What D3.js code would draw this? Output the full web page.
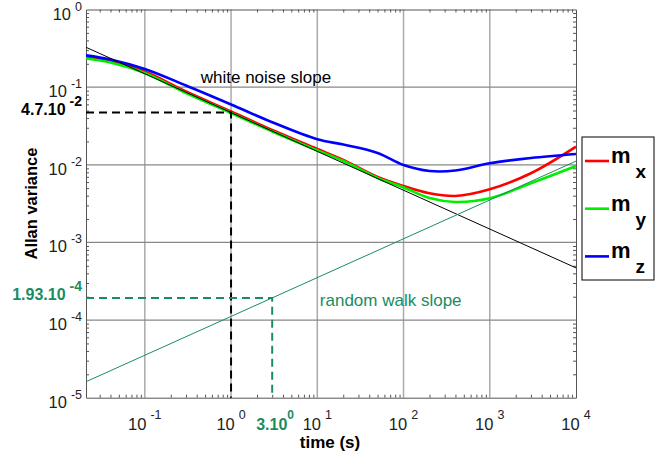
<!DOCTYPE html>
<html>
<head>
<meta charset="utf-8">
<script src="https://cdn.jsdelivr.net/npm/d3@7"></script>
<style>
  body { margin: 0; background: #fff; }
  text { font-family: "Liberation Sans", Arial, sans-serif; }
</style>
</head>
<body>
<div id="chart"></div>
<script>
// data
var tau = [0.0208, 0.04, 0.1, 0.3, 1, 3, 10, 20, 50, 100, 200, 400, 1000, 3000, 10000];
var mx = [0.239, 0.217, 0.159, 0.0879, 0.0486, 0.0281, 0.0160, 0.01153, 0.00696, 0.00533, 0.00429, 0.00396, 0.00483, 0.00777, 0.0171];
var my = [0.234, 0.208, 0.152, 0.0841, 0.0465, 0.0268, 0.0153, 0.0112, 0.00676, 0.00510, 0.00373, 0.00332, 0.00370, 0.00577, 0.00964];
var mz = [0.257, 0.227, 0.171, 0.105, 0.0598, 0.0353, 0.0213, 0.0182, 0.0142, 0.00993, 0.00832, 0.00844, 0.01045, 0.01223, 0.01377];

// slope lines (end points)
var slopeTau = [0.0208, 10000];
var whiteNoise = [0.326, 4.7e-4];
var randomWalk = [1.607e-5, 0.01114];

var xExps = [-1, 0, 1, 2, 3, 4];
var yExps = [0, -1, -2, -3, -4, -5];

var seriesNames = ["x", "y", "z"];
var seriesColors = ["#ff0000", "#00ee00", "#0000ff"];

var noiseMark = { tau: 1, value: 4.7e-2, label: "4.7.10", exp: "-2" };
var walkMark = { tau: 3, value: 1.93e-4, label: "1.93.10", exp: "-4", xlabel: "3.10", xexp: "0" };

var teal = "#1a8c62";

var svgWidth = 672;
var svgHeight = 459;
var margin = { top: 9.5, right: 96, bottom: 61.3, left: 86 };
var width = svgWidth - margin.left - margin.right;
var height = svgHeight - margin.top - margin.bottom;

var svg = d3.select("#chart")
  .append("svg")
  .attr("width", svgWidth)
  .attr("height", svgHeight);

var chartGroup = svg.append("g")
  .attr("transform", `translate(${margin.left}, ${margin.top})`);

var x = d3.scaleLog().domain([0.0208, 1e4]).range([0, width]);
var y = d3.scaleLog().domain([1e-5, 1]).range([height, 0]);

// minor tick values
var xMinor = [], yMinor = [];
for (var e = -2; e < 4; e++) {
  for (var k = 2; k < 10; k++) {
    var v = k * Math.pow(10, e);
    if (v >= 0.0208 && v <= 1e4) xMinor.push(v);
  }
}
for (var e2 = -5; e2 < 0; e2++) {
  for (var k2 = 2; k2 < 10; k2++) yMinor.push(k2 * Math.pow(10, e2));
}
var xMajor = xExps.map(d => Math.pow(10, d));
var yMajor = yExps.map(d => Math.pow(10, d));

// grid
chartGroup.append("g").selectAll("line")
  .data(xMajor.filter(d => d < 1e4))
  .enter().append("line")
  .attr("x1", d => x(d)).attr("x2", d => x(d))
  .attr("y1", 0).attr("y2", height)
  .attr("stroke", "#aaa").attr("stroke-width", 1.5);

chartGroup.append("g").selectAll("line")
  .data(yMajor.filter(d => d < 1 && d > 1e-5))
  .enter().append("line")
  .attr("x1", 0).attr("x2", width)
  .attr("y1", d => y(d)).attr("y2", d => y(d))
  .attr("stroke", "#888").attr("stroke-width", 1.2);

// axes (ticks inside)
function styleAxis(g) {
  g.selectAll("path").attr("stroke", "#555");
  g.selectAll("line").attr("stroke", "#555");
}
chartGroup.append("g").attr("transform", `translate(0, ${height})`)
  .call(d3.axisBottom(x).tickValues(xMinor).tickSize(-3).tickSizeOuter(0).tickFormat(""))
  .call(styleAxis);
chartGroup.append("g")
  .call(d3.axisTop(x).tickValues(xMinor).tickSize(-3).tickSizeOuter(0).tickFormat(""))
  .call(styleAxis);
chartGroup.append("g")
  .call(d3.axisLeft(y).tickValues(yMinor).tickSize(-3).tickSizeOuter(0).tickFormat(""))
  .call(styleAxis);
chartGroup.append("g").attr("transform", `translate(${width}, 0)`)
  .call(d3.axisRight(y).tickValues(yMinor).tickSize(-3).tickSizeOuter(0).tickFormat(""))
  .call(styleAxis);

// tick labels
var xLab = chartGroup.append("g").selectAll("text")
  .data(xExps)
  .enter().append("text")
  .attr("x", d => x(Math.pow(10, d)))
  .attr("y", height + 32)
  .attr("text-anchor", "middle")
  .attr("fill", "#222")
  .style("font-size", "16.5px");
xLab.append("tspan").text("10");
xLab.append("tspan").attr("dx", 4).attr("dy", -11).style("font-size", "12.5px").text(d => d);

var yLab = chartGroup.append("g").selectAll("text")
  .data(yExps)
  .enter().append("text")
  .attr("x", -4)
  .attr("y", d => y(Math.pow(10, d)) + 10)
  .attr("text-anchor", "end")
  .attr("fill", "#222")
  .style("font-size", "16.5px");
yLab.append("tspan").text("10");
yLab.append("tspan").attr("dx", 4).attr("dy", -9).style("font-size", "12.5px").text(d => d);

// clip
svg.append("clipPath").attr("id", "clip")
  .append("rect").attr("width", width).attr("height", height);
var plot = chartGroup.append("g").attr("clip-path", "url(#clip)");

// curves
var line = d3.line()
  .x(d => x(d[0]))
  .y(d => y(d[1]))
  .curve(d3.curveCatmullRom);

[mx, my, mz].forEach(function(vals, i) {
  plot.append("path")
    .datum(tau.map((t, j) => [t, vals[j]]))
    .attr("d", line)
    .attr("fill", "none")
    .attr("stroke", seriesColors[i])
    .attr("stroke-width", 2.6);
});

var straight = d3.line().x(d => x(d[0])).y(d => y(d[1]));
plot.append("path")
  .datum(slopeTau.map((t, j) => [t, whiteNoise[j]]))
  .attr("d", straight)
  .attr("fill", "none").attr("stroke", "#000").attr("stroke-width", 1);
plot.append("path")
  .datum(slopeTau.map((t, j) => [t, randomWalk[j]]))
  .attr("d", straight)
  .attr("fill", "none").attr("stroke", teal).attr("stroke-width", 1);

// dashed markers
function marker(m, color) {
  chartGroup.append("path")
    .attr("d", `M0,${y(m.value)}H${x(m.tau)}V${height}`)
    .attr("fill", "none")
    .attr("stroke", color)
    .attr("stroke-width", 2)
    .attr("stroke-dasharray", "8,5");
  var t = chartGroup.append("text")
    .attr("x", -4)
    .attr("y", y(m.value) + 2)
    .attr("text-anchor", "end")
    .attr("fill", color)
    .style("font-size", "16px")
    .style("font-weight", "bold");
  t.append("tspan").text(m.label);
  t.append("tspan").attr("dx", 4).attr("dy", -9).style("font-size", "14px").text(m.exp);
}
marker(noiseMark, "#000");
marker(walkMark, teal);

var xt = chartGroup.append("text")
  .attr("x", x(walkMark.tau) - 16)
  .attr("y", height + 32)
  .attr("fill", teal)
  .style("font-size", "16px")
  .style("font-weight", "bold");
xt.append("tspan").text(walkMark.xlabel);
xt.append("tspan").attr("dy", -11).style("font-size", "12px").text(walkMark.xexp);

// slope labels
chartGroup.append("text")
  .attr("x", x(0.445))
  .attr("y", y(0.113))
  .attr("fill", "#000")
  .style("font-size", "17px")
  .text("white noise slope");

chartGroup.append("text")
  .attr("x", x(10.7))
  .attr("y", y(1.52e-4))
  .attr("fill", teal)
  .style("font-size", "17px")
  .text("random walk slope");

// axis titles
chartGroup.append("text")
  .attr("x", width / 2 - 1)
  .attr("y", height + 50)
  .attr("text-anchor", "middle")
  .style("font-size", "17px")
  .style("font-weight", "bold")
  .text("time (s)");

chartGroup.append("text")
  .attr("transform", "rotate(-90)")
  .attr("x", -height / 2)
  .attr("y", -49)
  .attr("text-anchor", "middle")
  .style("font-size", "16.5px")
  .style("font-weight", "bold")
  .text("Allan variance");

// legend
var legend = svg.append("g").attr("transform", "translate(582, 137)");
legend.append("rect")
  .attr("width", 72).attr("height", 143)
  .attr("fill", "#fff").attr("stroke", "#000").attr("stroke-width", 1);
var items = legend.selectAll("g.item")
  .data(seriesNames)
  .enter().append("g")
  .attr("transform", (d, i) => `translate(0, ${24 + i * 47.7})`);
items.append("line")
  .attr("x1", 3).attr("x2", 27)
  .attr("stroke", (d, i) => seriesColors[i]).attr("stroke-width", 2.6);
var lt = items.append("text")
  .attr("x", 29).attr("y", 2)
  .style("font-weight", "bold")
  .style("font-size", "22px");
lt.append("tspan").text("m");
lt.append("tspan").attr("dx", 5).attr("dy", 15).style("font-size", "19px").text(d => d);
</script>
</body>
</html>
